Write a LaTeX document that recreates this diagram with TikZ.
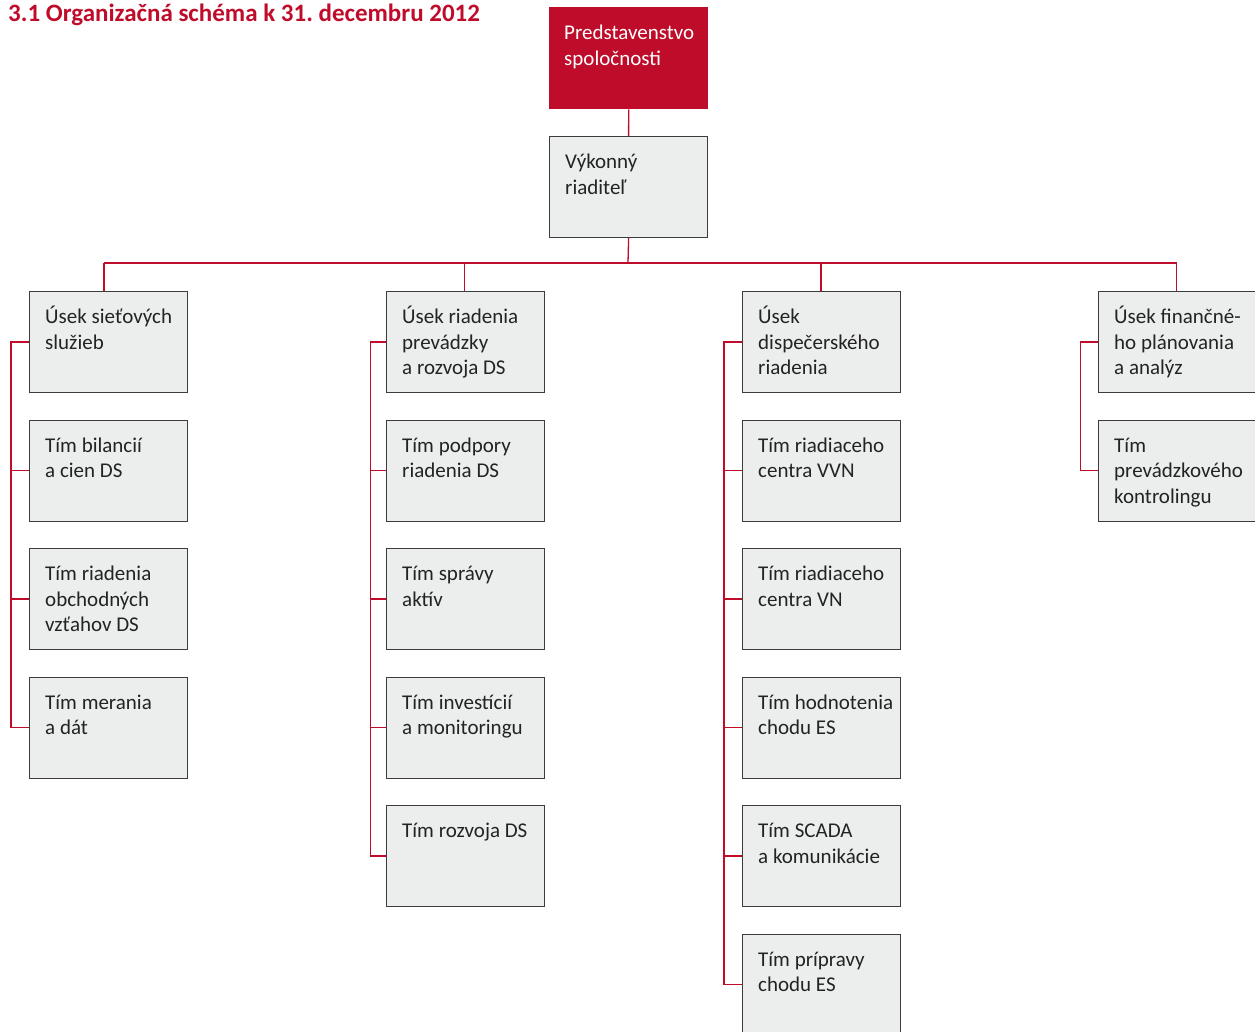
\documentclass[tikz,border=0pt]{standalone}
\usepackage{fontspec}
\setmainfont{Carlito}
\frenchspacing
\definecolor{ored}{RGB}{190,12,42}
\definecolor{ogray}{RGB}{236,237,237}
\definecolor{oborder}{RGB}{60,60,60}
\definecolor{otext}{RGB}{35,35,35}
\tikzset{
  gbox/.style={draw=oborder, line width=1.2pt, fill=ogray, anchor=north west, inner sep=0pt, minimum width=158pt, minimum height=101pt},
  rbox/.style={fill=ored, anchor=north west, inner sep=0pt, minimum width=159pt, minimum height=102pt},
  btxt/.style={anchor=base west, inner sep=0pt, text=otext, font=\fontsize{21}{25.6}\selectfont},
  wtxt/.style={btxt, text=white},
  conn/.style={draw=ored, line width=1.3pt},
}
\newcommand\obox[4]{%
  \node[gbox] (#1) at (#2,#3) {};
  \node[btxt] (#1-t) at (#2+16,#3+32.5) {\parbox[t]{150pt}{#4}};
}
\begin{document}
\begin{tikzpicture}[x=1pt,y=-1pt]
\useasboundingbox (0,0) rectangle (1255,1032);
\node[anchor=base west, inner sep=0pt, text=ored, font=\bfseries\fontsize{25}{28}\selectfont] (title) at (8,21.5) {3.1 Organizačná schéma k 31. decembru 2012};

\node[rbox] (pred) at (549,7) {};
\node[wtxt] (pred-t) at (564,39.5) {\parbox[t]{150pt}{Predstavenstvo\\spoločnosti}};
\obox{vyk}{549}{136}{Výkonný\\riaditeľ}

% column 1
\obox{a1}{29}{291}{Úsek sieťových\\služieb}
\obox{a2}{29}{419.5}{Tím bilancií\\a cien DS}
\obox{a3}{29}{548}{Tím riadenia\\obchodných\\vzťahov DS}
\obox{a4}{29}{676.5}{Tím merania\\a dát}
% column 2
\obox{b1}{386}{291}{Úsek riadenia\\prevádzky\\a rozvoja DS}
\obox{b2}{386}{419.5}{Tím podpory\\riadenia DS}
\obox{b3}{386}{548}{Tím správy\\aktív}
\obox{b4}{386}{676.5}{Tím investícií\\a monitoringu}
\obox{b5}{386}{805}{Tím rozvoja DS}
% column 3
\obox{c1}{742}{291}{Úsek\\dispečerského\\riadenia}
\obox{c2}{742}{419.5}{Tím riadiaceho\\centra VVN}
\obox{c3}{742}{548}{Tím riadiaceho\\centra VN}
\obox{c4}{742}{676.5}{Tím hodnotenia\\chodu ES}
\obox{c5}{742}{805}{Tím SCADA\\a komunikácie}
\obox{c6}{742}{933.5}{Tím prípravy\\chodu ES}
% column 4
\obox{d1}{1098}{291}{Úsek finančné-\\ho plánovania\\a analýz}
\obox{d2}{1098}{419.5}{Tím\\prevádzkového\\kontrolingu}

% connectors
\coordinate (bus) at (628,263);
\coordinate (bus1) at (104,263);
\coordinate (bus2) at (464.5,263);
\coordinate (bus3) at (821,263);
\coordinate (bus4) at (1176.5,263);
\coordinate (sp1) at (11,0);
\coordinate (sp2) at (370.5,0);
\coordinate (sp3) at (724,0);
\coordinate (sp4) at (1080.5,0);

\draw[conn] (pred.south) -- (vyk.north);
\draw[conn] (vyk.south) -- (bus);
\draw[conn] (bus1) -- (bus4);
\draw[conn] (bus1) -- (bus1 |- a1.north);
\draw[conn] (bus2) -- (bus2 |- b1.north);
\draw[conn] (bus3) -- (bus3 |- c1.north);
\draw[conn] (bus4) -- (bus4 |- d1.north);

\draw[conn] (a1.west) -- (sp1 |- a1.west) -- (sp1 |- a4.west) -- (a4.west);
\foreach \n in {a2,a3} \draw[conn] (\n.west) -- (sp1 |- \n.west);
\draw[conn] (b1.west) -- (sp2 |- b1.west) -- (sp2 |- b5.west) -- (b5.west);
\foreach \n in {b2,b3,b4} \draw[conn] (\n.west) -- (sp2 |- \n.west);
\draw[conn] (c1.west) -- (sp3 |- c1.west) -- (sp3 |- c6.west) -- (c6.west);
\foreach \n in {c2,c3,c4,c5} \draw[conn] (\n.west) -- (sp3 |- \n.west);
\draw[conn] (d1.west) -- (sp4 |- d1.west) -- (sp4 |- d2.west) -- (d2.west);
\end{tikzpicture}
\end{document}
